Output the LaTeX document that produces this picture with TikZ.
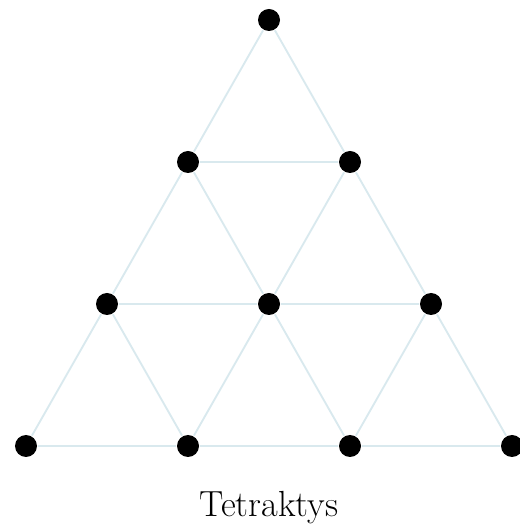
\documentclass[tikz,border=0pt]{standalone}
\definecolor{gridline}{HTML}{D9E9EE}
\begin{document}
\begin{tikzpicture}[x=0.03cm, y=0.03cm, line width=1.6pt,
  dot/.style={circle, fill=black, inner sep=0pt, minimum size=0.66cm}]
  \useasboundingbox (0,0) rectangle (519,529);
  \node[dot] (a) at (269,509) {};
  \node[dot] (b1) at (188,367) {};
  \node[dot] (b2) at (350,367) {};
  \node[dot] (c1) at (107,225) {};
  \node[dot] (c2) at (269,225) {};
  \node[dot] (c3) at (431,225) {};
  \node[dot] (d1) at (26,83) {};
  \node[dot] (d2) at (188,83) {};
  \node[dot] (d3) at (350,83) {};
  \node[dot] (d4) at (512,83) {};
  \draw[gridline] (a) -- (b1) -- (b2) -- (a);
  \draw[gridline] (b1) -- (c1) -- (c2) -- (b1);
  \draw[gridline] (b2) -- (c2) -- (c3) -- (b2);
  \draw[gridline] (c1) -- (d1) -- (d2) -- (c1);
  \draw[gridline] (c2) -- (d2) -- (d3) -- (c2);
  \draw[gridline] (c3) -- (d3) -- (d4) -- (c3);
  \node[font=\fontsize{31}{34}\selectfont] (title) at (269,21) {Tetraktys};
\end{tikzpicture}
\end{document}
